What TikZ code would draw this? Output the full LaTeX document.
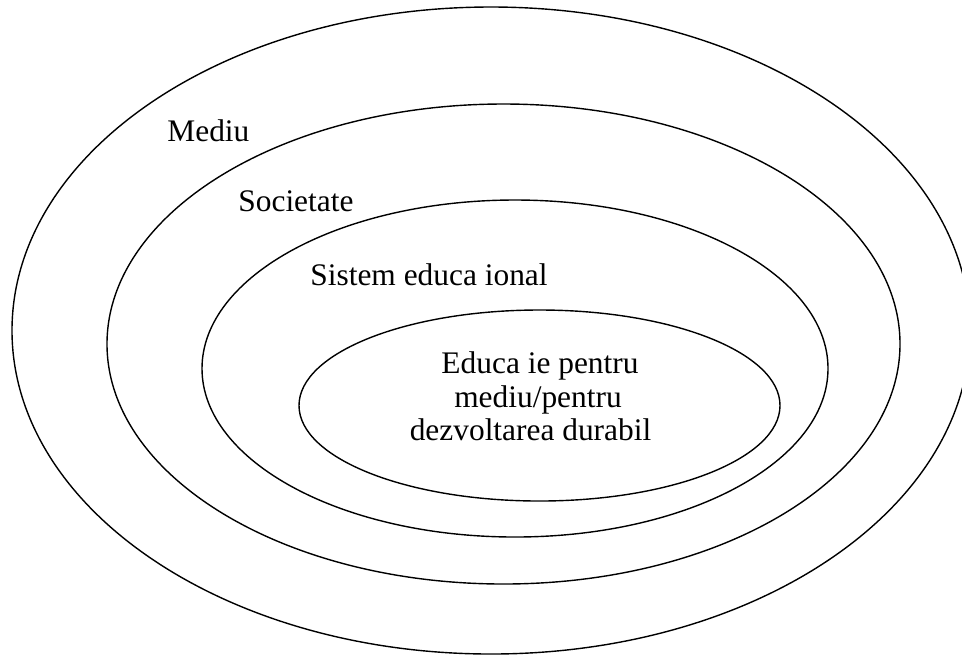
\documentclass[tikz,border=0pt]{standalone}
\usepackage{fontspec}
\setmainfont{Liberation Serif}
\begin{document}
\begin{tikzpicture}[x=0.5pt,y=-0.5pt,
  ring/.style={draw=black,line width=0.7pt},
  lbl/.style={inner sep=0pt,font=\fontsize{15.7pt}{16.75pt}\selectfont}]
\useasboundingbox (0,0) rectangle (962,655);
\clip (0,0) rectangle (962,655);
% nested ellipses, outermost first
\draw[ring] (491,330.5) ellipse [x radius=239.5pt, y radius=161.75pt];
\draw[ring] (503.5,344) ellipse [x radius=198.25pt, y radius=120pt];
\draw[ring] (515,368.5) ellipse [x radius=156.5pt, y radius=84.25pt];
\draw[ring] (539.5,405.5) ellipse [x radius=120.25pt, y radius=47.75pt];
% ring labels
\node[lbl,anchor=base west] (mediu) at (167,141) {Mediu};
\node[lbl,anchor=base west] (soc) at (238,211.7) {Societate};
\node[lbl,anchor=base west] (sist) at (310,285) {Sistem educa ional};
% centre text
\node[lbl,anchor=base] (ed1) at (540,373) {Educa ie pentru};
\node[lbl,anchor=base] (ed2) at (538,407) {mediu/pentru};
\node[lbl,anchor=base] (ed3) at (530.5,440) {dezvoltarea durabil};
\end{tikzpicture}
\end{document}
